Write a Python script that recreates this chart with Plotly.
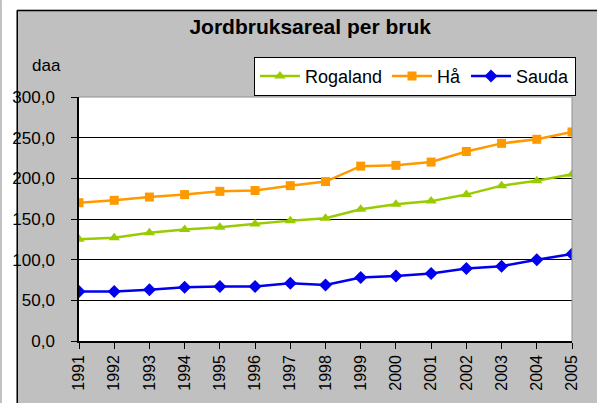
import plotly.graph_objects as go

years = list(range(1991, 2006))
rogaland = [125, 127, 133, 137, 140, 144, 148, 151, 162, 168, 172, 180, 191, 197, 205]
haa = [170, 173, 177, 180, 184, 185, 191, 196, 215, 216, 220, 233, 243, 248, 257]
sauda = [61, 61, 63, 66, 67, 67, 71, 69, 78, 80, 83, 89, 92, 100, 107]
y_ticks = [0, 50, 100, 150, 200, 250, 300]

FONT = "Liberation Sans, Arial, sans-serif"
W, H = 597, 403
# plot area in pixels: left 73, right 572, top 97, bottom 346
M_L, M_T = 73, 97
M_R, M_B = W - 572, H - 346
PW, PH = W - M_L - M_R, H - M_T - M_B


def px_x(px):
    # pixel -> paper x
    return (px - M_L) / PW


def px_y(py):
    # pixel -> paper y
    return (H - M_B - py) / PH


fig = go.Figure()
fig.add_trace(go.Scatter(x=years, y=rogaland, name="Rogaland", mode="lines+markers",
                         line=dict(color="#99cc00", width=2.5),
                         marker=dict(symbol="triangle-up", size=10, color="#99cc00")))
fig.add_trace(go.Scatter(x=years, y=haa, name="Hå", mode="lines+markers",
                         line=dict(color="#ff9900", width=2.5),
                         marker=dict(symbol="square", size=9, color="#ff9900")))
fig.add_trace(go.Scatter(x=years, y=sauda, name="Sauda", mode="lines+markers",
                         line=dict(color="#0000ee", width=2.5),
                         marker=dict(symbol="diamond", size=10, color="#0000ee")))

shapes = [
    # white strips left of and above the grey chart area
    dict(type="rect", xref="paper", yref="paper", x0=px_x(-5), x1=px_x(10),
         y0=px_y(410), y1=px_y(-5), fillcolor="white", line_width=0, layer="below"),
    dict(type="rect", xref="paper", yref="paper", x0=px_x(-5), x1=px_x(610),
         y0=px_y(8), y1=px_y(-5), fillcolor="white", line_width=0, layer="below"),
    # chart area border
    dict(type="line", xref="paper", yref="paper", x0=px_x(10.5), x1=px_x(10.5),
         y0=px_y(410), y1=px_y(8.5), line=dict(color="black", width=1.5)),
    dict(type="line", xref="paper", yref="paper", x0=px_x(10.5), x1=px_x(610),
         y0=px_y(8.7), y1=px_y(8.7), line=dict(color="black", width=1.5)),
    # plot area top and right border
    dict(type="line", xref="paper", yref="paper", x0=0, x1=1, y0=1, y1=1,
         line=dict(color="#909090", width=1)),
    dict(type="line", xref="paper", yref="paper", x0=1, x1=1, y0=0, y1=1,
         line=dict(color="#909090", width=1)),
]

fig.update_layout(
    width=W, height=H,
    margin=dict(l=M_L, r=M_R, t=M_T, b=M_B),
    paper_bgcolor="#c0c0c0",
    plot_bgcolor="white",
    font=dict(family=FONT, size=16, color="black"),
    separators=", ",
    showlegend=True,
    shapes=shapes,
    title=dict(text="<b>Jordbruksareal per bruk</b>", x=px_x(307), xref="paper",
               xanchor="center", y=1 - 27 / H, yanchor="middle",
               font=dict(family=FONT, size=21, color="black")),
    legend=dict(orientation="h", x=px_x(576), xanchor="right", y=px_y(56), yanchor="top",
                bgcolor="white", bordercolor="black", borderwidth=1,
                font=dict(family=FONT, size=18, color="black"),
                itemwidth=40, tracegroupgap=0),
    annotations=[dict(text="daa", xref="paper", yref="paper", x=px_x(40), y=px_y(65),
                      xanchor="center", yanchor="middle", showarrow=False,
                      font=dict(family=FONT, size=17, color="black"))],
)

fig.update_xaxes(range=[1991, 2005], tickvals=years, ticktext=[str(y) for y in years],
                 tickangle=-90, ticks="outside", ticklen=6, tickcolor="black",
                 showline=True, linecolor="black", linewidth=1.5, showgrid=False,
                 zeroline=False, tickfont=dict(family=FONT, size=16, color="black"))
fig.update_yaxes(range=[0, 300], tickvals=y_ticks, tickformat=".1f",
                 ticks="outside", ticklen=6, tickcolor="black", ticklabelstandoff=13,
                 showline=True, linecolor="black", linewidth=1.5,
                 showgrid=True, gridcolor="black", gridwidth=1, zeroline=False,
                 tickfont=dict(family=FONT, size=17, color="black"))

# drop the page margin so the figure fills the window
fig.write_html("out.html", config={"displayModeBar": False},
               post_script="document.body.style.margin='0';document.body.style.overflow='hidden';")
